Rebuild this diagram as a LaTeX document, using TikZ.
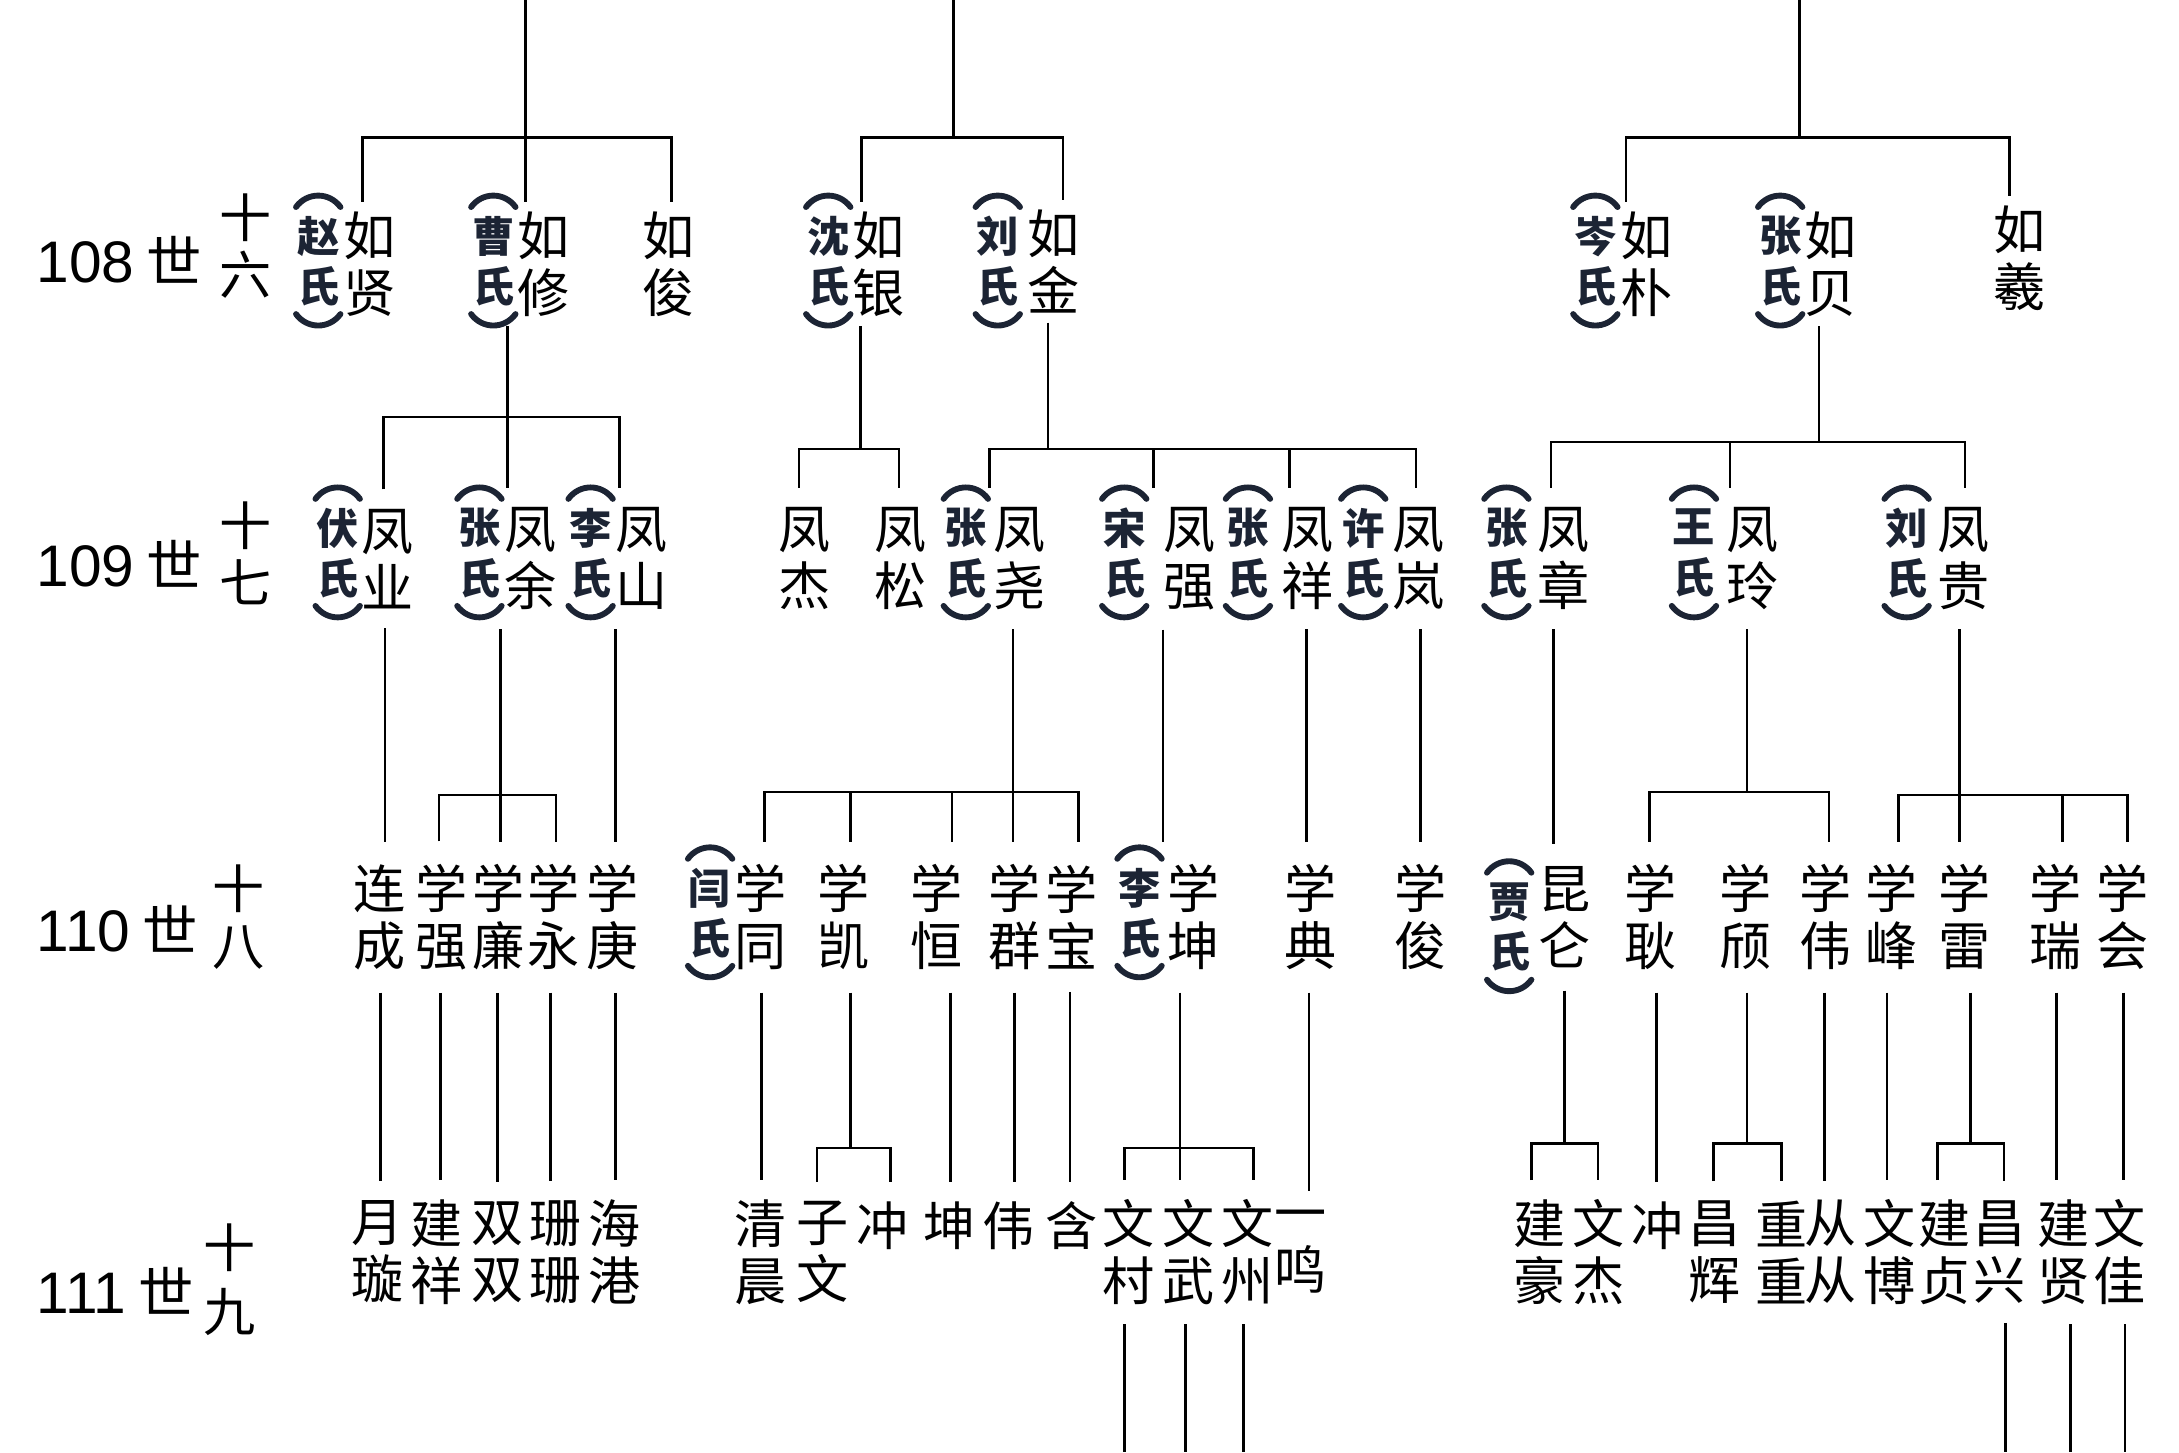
\documentclass[tikz,border=0pt]{standalone}
\usepackage{tikz}
\usepackage{fontspec}
\newfontfamily\cjk{Noto Sans CJK SC}
\newfontfamily\numfont{Liberation Sans}
\definecolor{wifecol}{RGB}{28,36,52}

\tikzset{
  nm/.style={font=\cjk\fontsize{16}{17.5}\selectfont, align=center, inner sep=0pt},
  r1/.style={nm, outer ysep=3pt},
  r2/.style={nm, outer ysep=6pt},
  r3/.style={nm, outer ysep=7pt},
  r4/.style={nm, outer ysep=6pt},
  gen/.style={font=\cjk\fontsize{17}{20}\selectfont, inner sep=0pt, anchor=west},
  link/.style={line width=0.8pt},
  wife/.style={font=\cjk\bfseries\fontsize{13}{15.5}\selectfont, text=wifecol, align=center, inner sep=0pt},
  paren/.style={line width=1.8pt, draw=wifecol, line cap=round},
  spouse/.pic={
    \node[wife] (-n) at (0,0) {#1\\氏};
    \draw[paren] (-16,-39) .. controls (-8,-50) and (8,-50) .. (16,-39);
    \draw[paren] (-16,38) .. controls (-8,49) and (8,49) .. (16,38);
  }
}

\begin{document}
\begin{tikzpicture}[x=0.015cm, y=-0.015cm]
\useasboundingbox (0,0) rectangle (1568,1045);

% generation labels
\node[gen] (g108) at (26,187) {{\numfont\fontsize{18}{20}\selectfont 108} 世};
\node[gen] (g109) at (26,406) {{\numfont\fontsize{18}{20}\selectfont 109} 世};
\node[gen] (g110) at (26,668) {{\numfont\fontsize{18}{20}\selectfont 110} 世};
\node[gen] (g111) at (26,929) {{\numfont\fontsize{18}{20}\selectfont 111} 世};
\node[nm] (n108) at (177,177) {十\\六};
\node[nm] (n109) at (177,398) {十\\七};
\node[nm] (n110) at (172,660) {十\\八};
\node[nm, font=\cjk\fontsize{16}{19.5}\selectfont] (n111) at (165,921) {十\\九};

% 108
\node[r1] (ruxian) at (266,190) {如\\贤};
\node[r1] (ruxiu) at (391,190) {如\\修};
\node[r1] (rujun) at (481,190) {如\\俊};
\node[r1] (ruyin) at (632,190) {如\\银};
\node[r1] (rujin) at (758,188) {如\\金};
\node[r1] (rupu) at (1185,190) {如\\朴};
\node[r1] (rubei) at (1317,190) {如\\贝};
\node[r1] (ruxi) at (1453,186) {如\\羲};
\pic (w1) at (229,188) {spouse=赵};
\pic (w2) at (355,188) {spouse=曹};
\pic (w3) at (596,188) {spouse=沈};
\pic (w4) at (718,188) {spouse=刘};
\pic (w5) at (1148,188) {spouse=岑};
\pic (w6) at (1281,188) {spouse=张};

% 109
\node[r2] (fengye) at (279,402) {凤\\业};
\node[r2] (fengyu) at (382,402) {凤\\余};
\node[r2] (fengshan) at (462,402) {凤\\山};
\node[r2] (fengjie) at (579,402) {凤\\杰};
\node[r2] (fengsong) at (648,402) {凤\\松};
\node[r2] (fengyao) at (734,402) {凤\\尧};
\node[r2] (fengqiang) at (856,402) {凤\\强};
\node[r2] (fengxiang) at (941,402) {凤\\祥};
\node[r2] (fenglan) at (1021,402) {凤\\岚};
\node[r2] (fengzhang) at (1125,402) {凤\\章};
\node[r2] (fengling) at (1261,402) {凤\\玲};
\node[r2] (fenggui) at (1413,402) {凤\\贵};
\pic (w7) at (243,398) {spouse=伏};
\pic (w8) at (345,398) {spouse=张};
\pic (w9) at (425,398) {spouse=李};
\pic (w10) at (695,398) {spouse=张};
\pic (w11) at (809,398) {spouse=宋};
\pic (w12) at (898,398) {spouse=张};
\pic (w13) at (981,398) {spouse=许};
\pic (w14) at (1084,398) {spouse=张};
\pic (w15) at (1219,398) {spouse=王};
\pic (w16) at (1372,398) {spouse=刘};

% 110
\node[r3] (liancheng) at (273,660) {连\\成};
\node[r3] (xueqiang) at (318,660) {学\\强};
\node[r3] (xuelian) at (359,660) {学\\廉};
\node[r3] (xueyong) at (398,660) {学\\永};
\node[r3] (xuegeng) at (441,660) {学\\庚};
\node[r3] (xuetong) at (547,660) {学\\同};
\node[r3] (xuekai) at (607,660) {学\\凯};
\node[r3] (xueheng) at (674,660) {学\\恒};
\node[r3] (xuequn) at (730,660) {学\\群};
\node[r3] (xuebao) at (771,660) {学\\宝};
\node[r3] (xuekun) at (859,660) {学\\坤};
\node[r3] (xuedian) at (943,660) {学\\典};
\node[r3] (xuejun) at (1022,660) {学\\俊};
\node[r3] (kunlun) at (1126,660) {昆\\仑};
\node[r3] (xuegeng2) at (1188,660) {学\\耿};
\node[r3] (xueqi) at (1256,660) {学\\颀};
\node[r3] (xuewei) at (1314,660) {学\\伟};
\node[r3] (xuefeng) at (1361,660) {学\\峰};
\node[r3] (xuelei) at (1414,660) {学\\雷};
\node[r3] (xuerui) at (1479,660) {学\\瑞};
\node[r3] (xuehui) at (1527,660) {学\\会};
\pic (w17) at (511,657) {spouse=闫};
\pic (w18) at (820,657) {spouse=李};
\pic (w19) at (1086,667) {spouse=贾};

% 111
\node[r4] (yuexuan) at (272,901) {月\\璇};
\node[r4] (jianxiang) at (314,901) {建\\祥};
\node[r4] (shuangshuang) at (358,901) {双\\双};
\node[r4] (shanshan) at (400,901) {珊\\珊};
\node[r4] (haigang) at (442,901) {海\\港};
\node[r4] (qingchen) at (547,901) {清\\晨};
\node[r4] (ziwen) at (592,901) {子\\文};
\node[r4] (chong) at (635,882) {冲};
\node[r4] (kun) at (683,882) {坤};
\node[r4] (wei) at (726,882) {伟};
\node[r4] (han) at (771,882) {含};
\node[r4] (wencun) at (812,901) {文\\村};
\node[r4] (wenwu) at (855,901) {文\\武};
\node[r4] (wenzhou) at (898,901) {文\\州};
\node[r4] (yiming) at (936,901) {一\\鸣};
\node[r4] (jianhao) at (1108,901) {建\\豪};
\node[r4] (wenjie) at (1150,901) {文\\杰};
\node[r4] (chong2) at (1193,882) {冲};
\node[r4] (changhui) at (1234,901) {昌\\辉};
\node[r4] (chongchong) at (1282,901) {重\\重};
\node[r4] (congcong) at (1317,901) {从\\从};
\node[r4] (wenbo) at (1360,901) {文\\博};
\node[r4] (jianzhen) at (1399,901) {建\\贞};
\node[r4] (changxing) at (1439,901) {昌\\兴};
\node[r4] (jianxian) at (1485,901) {建\\贤};
\node[r4] (wenjia) at (1525,901) {文\\佳};

% from above
\coordinate (topA) at (378,0);
\coordinate (topB) at (686,0);
\coordinate (topC) at (1295,0);
\draw[link] (topA) -- (ruxiu.north -| topA);
\draw[link] (ruxian.north -| 261,0) -- (261,99) -| (rujun.north -| 483,0);
\draw[link] (topB) -- (686,99);
\draw[link] (ruyin.north -| 620,0) -- (620,99) -| (rujin.north -| 765,0);
\draw[link] (topC) -- (1295,99);
\draw[link] (rupu.north -| 1170,0) -- (1170,99) -| (ruxi.north -| 1446,0);

% 108 -> 109
\draw[link] (ruxiu.south -| 365,0) -- (fengyu.north -| 365,0);
\draw[link] (fengye.north -| 276,0) -- (276,300) -| (fengshan.north -| 446,0);
\draw[link] (ruyin.south -| 619,0) -- (619,323);
\draw[link] (fengjie.north -| 575,0) -- (575,323) -| (fengsong.north -| 647,0);
\draw[link] (rujin.south -| 754,0) -- (754,323);
\draw[link] (fengyao.north -| 712,0) -- (712,323) -| (fenglan.north -| 1019,0);
\draw[link] (830,323) -- (fengqiang.north -| 830,0);
\draw[link] (928,323) -- (fengxiang.north -| 928,0);
\draw[link] (rubei.south -| 1309,0) -- (1309,318);
\draw[link] (fengzhang.north -| 1116,0) -- (1116,318) -| (fenggui.north -| 1414,0);
\draw[link] (1245,318) -- (fengling.north -| 1245,0);

% 109 -> 110
\draw[link] (fengye.south -| 277,0) -- (liancheng.north -| 277,0);
\draw[link] (fengyu.south -| 360,0) -- (xuelian.north -| 360,0);
\draw[link] (xueqiang.north -| 316,0) -- (316,572) -| (xueyong.north -| 400,0);
\draw[link] (fengshan.south -| 443,0) -- (xuegeng.north -| 443,0);
\draw[link] (fengyao.south -| 729,0) -- (xuequn.north -| 729,0);
\draw[link] (xuetong.north -| 550,0) -- (550,570) -| (xuebao.north -| 776,0);
\draw[link] (612,570) -- (xuekai.north -| 612,0);
\draw[link] (685,570) -- (xueheng.north -| 685,0);
\draw[link] (fengqiang.south -| 837,0) -- (xuekun.north -| 837,0);
\draw[link] (fengxiang.south -| 940,0) -- (xuedian.north -| 940,0);
\draw[link] (fenglan.south -| 1022,0) -- (xuejun.north -| 1022,0);
\draw[link] (fengzhang.south -| 1118,0) -- (kunlun.north -| 1118,0);
\draw[link] (fengling.south -| 1257,0) -- (1257,570);
\draw[link] (xuegeng2.north -| 1187,0) -- (1187,570) -| (xuewei.north -| 1316,0);
\draw[link] (fenggui.south -| 1410,0) -- (xuelei.north -| 1410,0);
\draw[link] (xuefeng.north -| 1366,0) -- (1366,572) -| (xuehui.north -| 1531,0);
\draw[link] (1484,572) -- (xuerui.north -| 1484,0);

% 110 -> 111
\draw[link] (liancheng.south -| 274,0) -- (yuexuan.north -| 274,0);
\draw[link] (xueqiang.south -| 317,0) -- (jianxiang.north -| 317,0);
\draw[link] (xuelian.south -| 358,0) -- (shuangshuang.north -| 358,0);
\draw[link] (xueyong.south -| 396,0) -- (shanshan.north -| 396,0);
\draw[link] (xuegeng.south -| 443,0) -- (haigang.north -| 443,0);
\draw[link] (xuetong.south -| 548,0) -- (qingchen.north -| 548,0);
\draw[link] (xuekai.south -| 612,0) -- (612,826);
\draw[link] (ziwen.north -| 588,0) -- (588,826) -| (chong.north -| 641,0);
\draw[link] (xueheng.south -| 684,0) -- (kun.north -| 684,0);
\draw[link] (xuequn.south -| 730,0) -- (wei.north -| 730,0);
\draw[link] (xuebao.south -| 770,0) -- (han.north -| 770,0);
\draw[link] (xuekun.south -| 849,0) -- (wenwu.north -| 849,0);
\draw[link] (wencun.north -| 809,0) -- (809,826) -| (wenzhou.north -| 902,0);
\draw[link] (xuedian.south -| 942,0) -- (yiming.north -| 942,0);
\draw[link] (kunlun.south -| 1126,0) -- (1126,823);
\draw[link] (jianhao.north -| 1102,0) -- (1102,823) -| (wenjie.north -| 1150,0);
\draw[link] (xuegeng2.south -| 1192,0) -- (chong2.north -| 1192,0);
\draw[link] (xueqi.south -| 1257,0) -- (1257,823);
\draw[link] (changhui.north -| 1233,0) -- (1233,823) -| (chongchong.north -| 1282,0);
\draw[link] (xuewei.south -| 1313,0) -- (congcong.north -| 1313,0);
\draw[link] (xuefeng.south -| 1358,0) -- (wenbo.north -| 1358,0);
\draw[link] (xuelei.south -| 1418,0) -- (1418,823);
\draw[link] (jianzhen.north -| 1394,0) -- (1394,823) -| (changxing.north -| 1442,0);
\draw[link] (xuerui.south -| 1480,0) -- (jianxian.north -| 1480,0);
\draw[link] (xuehui.south -| 1528,0) -- (wenjia.north -| 1528,0);

% further down
\draw[link] (wencun.south -| 809,0) -- (809,1045);
\draw[link] (wenwu.south -| 853,0) -- (853,1045);
\draw[link] (wenzhou.south -| 895,0) -- (895,1045);
\draw[link] (changxing.south -| 1443,0) -- (1443,1045);
\draw[link] (jianxian.south -| 1490,0) -- (1490,1045);
\draw[link] (wenjia.south -| 1529,0) -- (1529,1045);
\end{tikzpicture}
\end{document}
